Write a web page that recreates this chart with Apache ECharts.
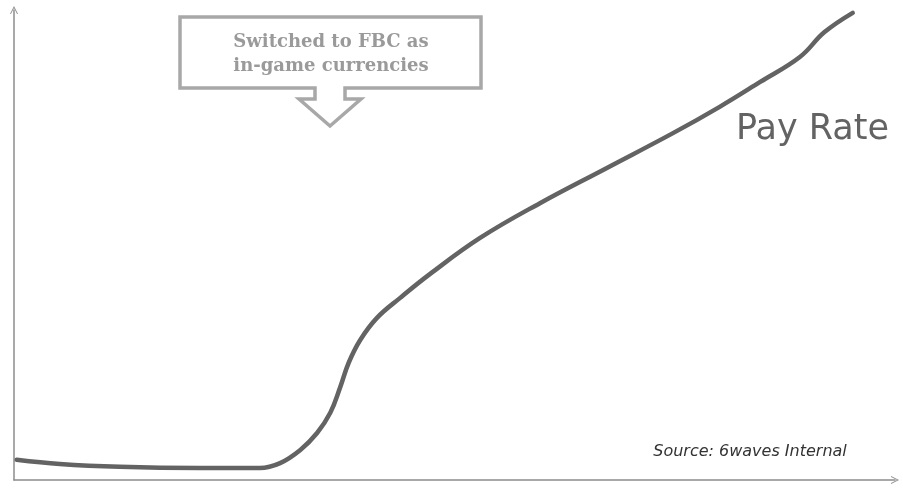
<!DOCTYPE html>
<html>
<head>
<meta charset="utf-8">
<script src="https://cdn.jsdelivr.net/npm/echarts@6/dist/echarts.min.js"></script>
<style>
  html, body { margin: 0; padding: 0; background: #fff; }
  #chart { width: 903px; height: 488px; }
</style>
</head>
<body>
<div id="chart"></div>
<script>
// Time index (0–100) and pay rate (relative scale 0–100)
const timeIndex = [0.3, 5.2, 12.0, 21.1, 27.9, 30.2, 32.5, 34.4, 35.9, 37.0, 38.0, 39.3, 41.2, 43.8, 47.2, 52.9, 59.7, 67.3, 74.8, 80.1, 84.7, 89.2, 92.0, 95.2];
const payRate   = [4.3, 3.4, 2.8, 2.55, 2.55, 3.6, 6.4, 10.0, 14.3, 19.6, 25.0, 29.8, 34.5, 38.7, 43.8, 51.5, 58.9, 66.4, 73.8, 79.4, 84.7, 90.0, 95.3, 99.4];

const seriesName = 'Pay Rate';
const calloutLines = ['Switched to FBC as', 'in-game currencies'];
const sourceNote = 'Source: 6waves Internal';

const chart = echarts.init(document.getElementById('chart'), null, { renderer: 'canvas' });

// open chevron used as the axis end marker (tip points along the axis)
const chevron = 'path://M0,10 L5,0 L10,10 L8.8,10 L5,2.4 L1.2,10 Z';

const axisLine = {
  show: true,
  lineStyle: { color: '#8c8c8c', width: 1.5 },
  symbol: ['none', chevron],
  symbolSize: [12, 8]
};

chart.setOption({
  animation: false,
  backgroundColor: '#ffffff',
  grid: { left: 14, right: 8, top: 10, bottom: 8 },
  xAxis: {
    type: 'value', min: 0, max: 100,
    axisLine: axisLine,
    axisTick: { show: false }, axisLabel: { show: false }, splitLine: { show: false }
  },
  yAxis: {
    type: 'value', min: 0, max: 100,
    axisLine: axisLine,
    axisTick: { show: false }, axisLabel: { show: false }, splitLine: { show: false }
  },
  series: [{
    name: seriesName,
    type: 'line',
    smooth: 0.4,
    symbol: 'none',
    data: timeIndex.map((t, i) => [t, payRate[i]]),
    lineStyle: { color: '#636363', width: 4.5, cap: 'round' }
  }],
  graphic: [
    {
      type: 'polygon',
      shape: {
        points: [[180, 17], [481, 17], [481, 88], [345, 88], [345, 99], [361, 99],
                 [330, 126], [299, 99], [315, 99], [315, 88], [180, 88]]
      },
      style: { fill: '#ffffff', stroke: '#a8a8a8', lineWidth: 3.5, lineJoin: 'miter' },
      z: 10
    },
    {
      type: 'text', x: 331, y: 42, z: 11,
      style: {
        text: calloutLines[0], fill: '#9a9a9a', align: 'center', verticalAlign: 'middle',
        font: 'bold 18px "DejaVu Serif"'
      }
    },
    {
      type: 'text', x: 331, y: 66, z: 11,
      style: {
        text: calloutLines[1], fill: '#9a9a9a', align: 'center', verticalAlign: 'middle',
        font: 'bold 18px "DejaVu Serif"'
      }
    },
    {
      type: 'text', x: 736, y: 130, z: 11,
      style: {
        text: seriesName, fill: '#636363', align: 'left', verticalAlign: 'middle',
        font: '35px "DejaVu Sans"'
      }
    },
    {
      type: 'text', x: 750, y: 452, z: 11,
      style: {
        text: sourceNote, fill: '#333333', align: 'center', verticalAlign: 'middle',
        font: 'italic 16px "DejaVu Sans"'
      }
    }
  ]
});
</script>
</body>
</html>
